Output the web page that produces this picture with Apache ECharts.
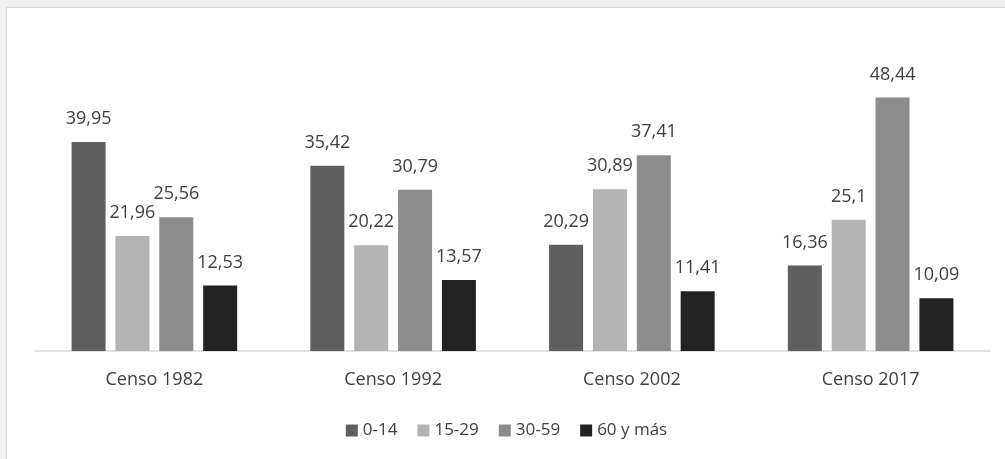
<!DOCTYPE html>
<html>
<head>
<meta charset="utf-8">
<script src="https://cdn.jsdelivr.net/npm/echarts@6/dist/echarts.min.js"></script>
<style>
  html, body { margin: 0; padding: 0; background: #f0f0f0; overflow: hidden; }
  #container {
    position: absolute; left: 6px; top: 7px;
    width: 999px; height: 452px;
    background: #fff;
    border-left: 1px solid #d9d9d9; border-top: 1px solid #d9d9d9;
  }
</style>
</head>
<body>
<div id="container"></div>
<script>
var censos = ['Censo 1982', 'Censo 1992', 'Censo 2002', 'Censo 2017'];
var grupos = ['0-14', '15-29', '30-59', '60 y más'];
var edad0a14 = [39.95, 35.42, 20.29, 16.36];
var edad15a29 = [21.96, 20.22, 30.89, 25.1];
var edad30a59 = [25.56, 30.79, 37.41, 48.44];
var edad60mas = [12.53, 13.57, 11.41, 10.09];
var colores = ['#5f5f5f', '#b3b3b3', '#8c8c8c', '#222222'];

var dom = document.getElementById('container');
var myChart = echarts.init(dom);

var valores = [edad0a14, edad15a29, edad30a59, edad60mas];
var series = valores.map(function (data, i) {
    return {
        name: grupos[i],
        type: 'bar',
        data: data,
        barWidth: 34,
        barGap: '29%',
        itemStyle: { color: colores[i] },
        label: {
            show: true,
            position: 'top',
            distance: 14,
            color: '#404040',
            fontSize: 18,
            fontFamily: 'Open Sans',
            formatter: function (p) {
                return String(p.value).replace('.', ',');
            }
        }
    };
});

var option = {
    animation: false,
    legend: {
        data: grupos,
        top: 409,
        left: 'center',
        icon: 'rect',
        itemWidth: 12,
        itemHeight: 12,
        itemGap: 20,
        textStyle: { color: '#404040', fontSize: 17, fontFamily: 'Open Sans' }
    },
    grid: { left: 28, right: 16, top: 29, bottom: 109 },
    xAxis: {
        type: 'category',
        data: censos,
        axisLine: { lineStyle: { color: '#d9d9d9', width: 1.5 } },
        axisTick: { show: false },
        axisLabel: { color: '#404040', fontSize: 18, fontFamily: 'Open Sans', margin: 20 }
    },
    yAxis: {
        type: 'value',
        min: 0,
        max: 60,
        show: false
    },
    series: series
};

myChart.setOption(option);
</script>
</body>
</html>
